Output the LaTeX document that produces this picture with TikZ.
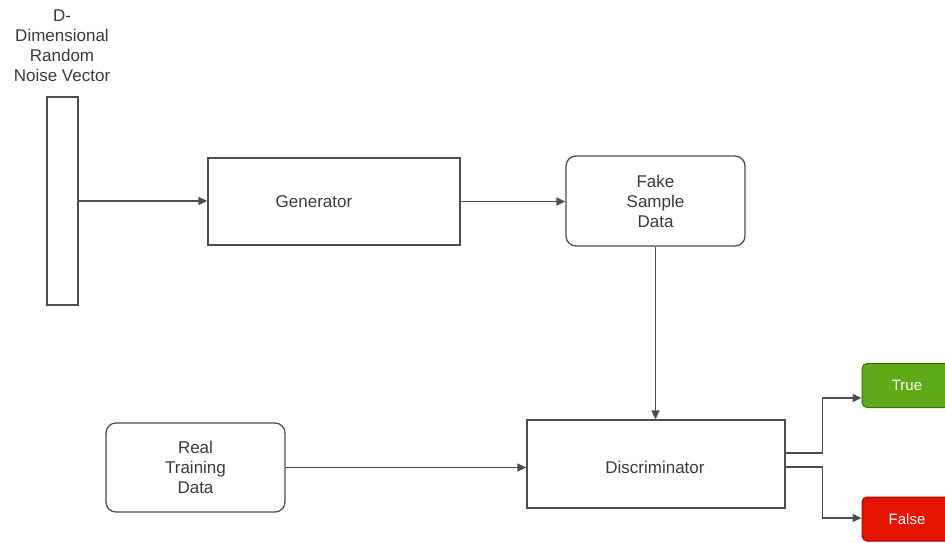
\documentclass[tikz,border=0pt]{standalone}
\usepackage{fontspec}
\setmainfont{Liberation Sans}
\usetikzlibrary{arrows.meta}

\begin{document}
\begin{tikzpicture}[x=1pt,y=-1pt,
  plain/.style={inner sep=0pt,text=textgrey,align=center,font=\fontsize{17}{20}\selectfont},
  block/.style={plain,draw=linegrey,line width=1.3pt},
  roundblock/.style={block,rounded corners=10pt},
  answer/.style={rounded corners=5pt,inner sep=0pt,line width=1pt,minimum width=90pt,minimum height=44pt,text=white,font=\fontsize{15}{18}\selectfont},
  link/.style={draw=linegrey,line width=1.3pt,-{Triangle[length=9pt,width=8pt]}}]
\definecolor{linegrey}{HTML}{4D4D4D}
\definecolor{textgrey}{HTML}{3A3A3A}
\definecolor{truegreen}{HTML}{60A917}
\definecolor{truegreenline}{HTML}{2D7600}
\definecolor{falsered}{HTML}{E51400}
\definecolor{falseredline}{HTML}{B20000}
\useasboundingbox (0,0) rectangle (945,542);
  % boxes
  \node [block,minimum width=31pt,minimum height=208pt] (noise) at (62.5,201) {};
  \node [plain] (noisetxt) at (62,46) {D-\\Dimensional\\Random\\Noise Vector};
  \node [block,minimum width=252pt,minimum height=87pt] (gen) at (334,201.5) {};
  \node [plain] (gentxt) at (314,202) {Generator};
  \node [roundblock,minimum width=179pt,minimum height=90pt] (fake) at (655.5,201) {Fake\\Sample\\Data};
  \node [block,minimum width=258pt,minimum height=88pt] (disc) at (656,464) {};
  \node [plain] (disctxt) at (655,467) {Discriminator};
  \node [roundblock,minimum width=179pt,minimum height=89pt] (real) at (195.5,467.5) {Real\\Training\\Data};
  \node [answer,fill=truegreen,draw=truegreenline] (truebox) at (907,385.5) {True};
  \node [answer,fill=falsered,draw=falseredline] (falsebox) at (907,519) {False};
  % arrows
  \draw [link] (noise.east) -- (noise.east -| gen.west);
  \draw [link] (gen.east) -- (gen.east -| fake.west);
  \draw [link] (fake.south) -- (fake.south |- disc.north);
  \draw [link] (real.east) -- (real.east -| disc.west);
  \draw [link] ([yshift=11pt]disc.east) -- ++(37,0) |- ([yshift=-12.5pt]truebox.west);
  \draw [link] ([yshift=-3pt]disc.east) -- ++(37,0) |- ([yshift=1pt]falsebox.west);
\end{tikzpicture}
\end{document}
